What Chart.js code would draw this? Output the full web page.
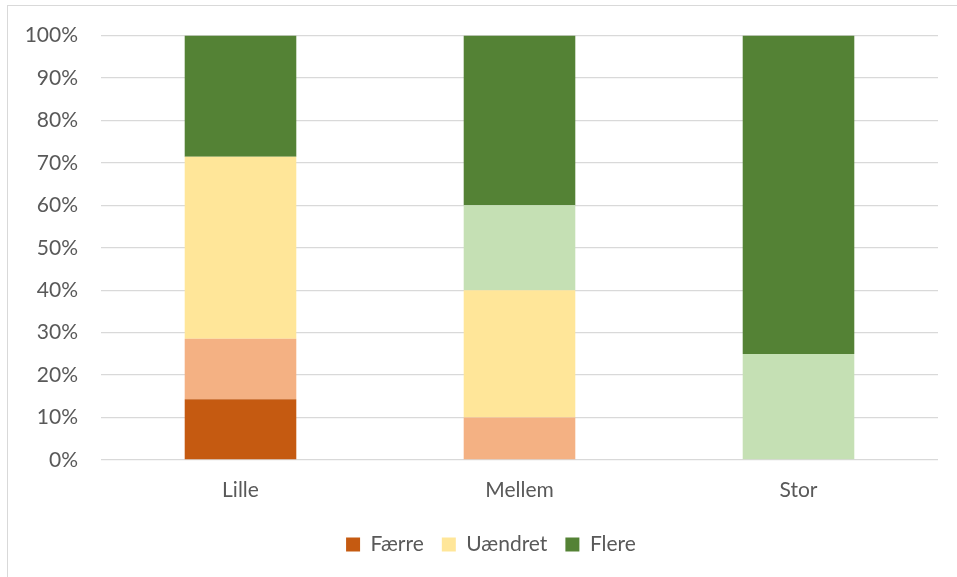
<!DOCTYPE html>
<html>
<head>
<meta charset="utf-8">
<script src="https://cdn.jsdelivr.net/npm/chart.js@4"></script>
<style>
  html, body { margin: 0; padding: 0; background: #fff; overflow: hidden; }
  #ramme { position: absolute; left: 7px; top: 5px; width: 960px; height: 580px; border: 1px solid #D9D9D9; }
  #wrap { position: absolute; left: 0; top: 0; width: 957px; height: 577px; }
</style>
</head>
<body>
<div id="ramme"></div>
<div id="wrap"><canvas id="chart" width="957" height="577"></canvas></div>
<script>
// Kategorier og andele (procent) pr. serie
const kategorier = ['Lille', 'Mellem', 'Stor'];
const faerre = [14.29, 0, 0];
const lidtFaerre = [14.29, 10, 0];
const uaendret = [42.86, 30, 0];
const lidtFlere = [0, 20, 25];
const flere = [28.57, 40, 75];
const yTicks = [0, 10, 20, 30, 40, 50, 60, 70, 80, 90, 100];

const TEKST = '#595959';
const GITTER = '#D9D9D9';
const FONT = 'Lato, "Open Sans", sans-serif';

// Flytter forklaringen lidt mod højre, som i originalen
const flytLegend = {
    id: 'flytLegend',
    afterLayout(chart) {
        chart.legend.left += 22;
        chart.legend.right += 22;
    }
};

const ctx = document.getElementById('chart').getContext('2d');
new Chart(ctx, {
    type: 'bar',
    data: {
        labels: kategorier,
        datasets: [
            { label: 'Færre', data: faerre, backgroundColor: '#C55A11' },
            { label: 'skjult1', data: lidtFaerre, backgroundColor: '#F4B183' },
            { label: 'Uændret', data: uaendret, backgroundColor: '#FFE699' },
            { label: 'skjult2', data: lidtFlere, backgroundColor: '#C5E0B4' },
            { label: 'Flere', data: flere, backgroundColor: '#548235' }
        ].map(d => Object.assign(d, { barPercentage: 0.4, categoryPercentage: 1.0, borderWidth: 0 }))
    },
    plugins: [flytLegend],
    options: {
        responsive: false,
        animation: false,
        layout: { padding: { left: 0, right: 19, top: 35, bottom: 12 } },
        plugins: {
            tooltip: { enabled: false },
            legend: {
                position: 'bottom',
                labels: {
                    color: TEKST,
                    font: { family: FONT, size: 21 },
                    boxWidth: 14,
                    boxHeight: 14,
                    padding: 18,
                    filter: item => !item.text.startsWith('skjult')
                }
            }
        },
        scales: {
            x: {
                stacked: true,
                grid: { display: false },
                border: { display: false },
                ticks: { color: TEKST, font: { family: FONT, size: 21 }, padding: 10 },
                afterFit: s => { s.height = 56; }
            },
            y: {
                stacked: true,
                min: 0,
                max: 100,
                afterBuildTicks: s => { s.ticks = yTicks.map(v => ({ value: v })); },
                grid: { color: GITTER, lineWidth: 1.3, drawTicks: false },
                border: { display: false },
                ticks: {
                    color: TEKST,
                    font: { family: FONT, size: 21 },
                    padding: 23,
                    callback: v => v + '%'
                },
                afterFit: s => { s.width = 101; }
            }
        }
    }
});
</script>
</body>
</html>
